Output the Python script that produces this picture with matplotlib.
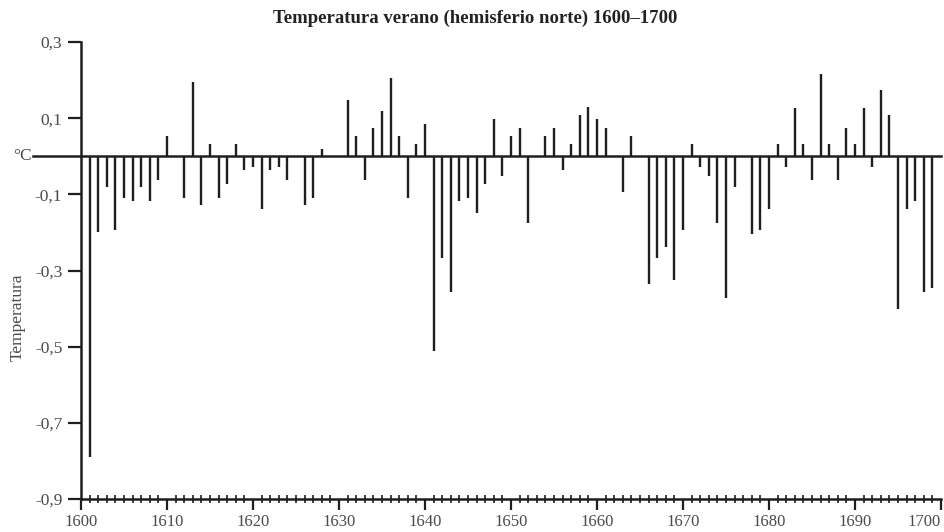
import matplotlib
matplotlib.use("Agg")
import matplotlib.pyplot as plt
import matplotlib.transforms as mtransforms
from matplotlib.ticker import MultipleLocator

# Summer temperature anomaly (northern hemisphere), one value per year, °C
years = list(range(1600, 1701))
anomaly = [
    0.0, -0.79, -0.20, -0.082, -0.194, -0.109, -0.118, -0.082, -0.118, -0.062,   # 1600-1609
    0.053, 0.0, -0.109, 0.195, -0.128, 0.032, -0.109, -0.073, 0.032, -0.037,     # 1610-1619
    -0.028, -0.138, -0.037, -0.028, -0.062, 0.0, -0.128, -0.109, 0.018, 0.0,     # 1620-1629
    0.0, 0.149, 0.053, -0.062, 0.074, 0.119, 0.205, 0.053, -0.109, 0.032,        # 1630-1639
    0.084, -0.512, -0.268, -0.356, -0.118, -0.109, -0.148, -0.073, 0.098, -0.053, # 1640-1649
    0.053, 0.074, -0.174, 0.0, 0.053, 0.074, -0.037, 0.032, 0.109, 0.129,        # 1650-1659
    0.098, 0.074, 0.0, -0.093, 0.053, 0.0, -0.336, -0.268, -0.239, -0.325,       # 1660-1669
    -0.194, 0.032, -0.027, -0.052, -0.174, -0.371, -0.082, 0.0, -0.203, -0.194,  # 1670-1679
    -0.138, 0.032, -0.027, 0.128, 0.032, -0.062, 0.215, 0.032, -0.062, 0.074,    # 1680-1689
    0.032, 0.128, -0.027, 0.175, 0.109, -0.402, -0.138, -0.118, -0.356, -0.345,  # 1690-1699
    0.0,                                                                          # 1700
]

y_ticks = [0.3, 0.1, -0.1, -0.3, -0.5, -0.7, -0.9]
y_tick_labels = ["0,3", "0,1", "-0,1", "-0,3", "-0,5", "-0,7", "-0,9"]
x_ticks = list(range(1600, 1701, 10))
x_tick_labels = [str(v) for v in x_ticks]

title = "Temperatura verano (hemisferio norte) 1600–1700"
y_label = "Temperatura"
unit_label = "°C"

serif = ["Liberation Serif", "DejaVu Serif"]
ink = "#1e1e1e"
label_color = "#4a4a4a"

fig = plt.figure(figsize=(9.44, 5.32), dpi=100)
fig.patch.set_facecolor("white")
ax = fig.add_axes([81 / 944, 1 - 499 / 532, (941 - 81) / 944, (499 - 42) / 532])

# yearly anomaly bars as thin vertical strokes from the zero line
ax.vlines(years, 0, anomaly, color=ink, lw=1.7)

ax.set_xlim(1600, 1700)
ax.set_ylim(-0.9, 0.3)

# zero line, extended to the left of the axis up to the unit label
trans = mtransforms.blended_transform_factory(ax.transAxes, ax.transData)
ax.plot([-48 / 860, 1.0], [0, 0], color=ink, lw=1.8, transform=trans, clip_on=False)
ax.text(-49 / 860, 0, unit_label, transform=trans, ha="right", va="center",
        fontsize=12.5, color=label_color, family=serif)

for side in ("top", "right"):
    ax.spines[side].set_visible(False)
for side in ("left", "bottom"):
    ax.spines[side].set_linewidth(1.8)
    ax.spines[side].set_color(ink)

ax.set_yticks(y_ticks)
ax.set_yticklabels(y_tick_labels, family=serif, fontsize=12.5, color=label_color)
ax.tick_params(axis="y", direction="out", length=9.5, width=1.6, color=ink, pad=4)

ax.set_xticks(x_ticks)
ax.set_xticklabels(x_tick_labels, family=serif, fontsize=12, color=label_color)
ax.xaxis.set_minor_locator(MultipleLocator(1))
ax.tick_params(axis="x", which="major", direction="out", length=8, width=1.6,
               color=ink, pad=3)
ax.tick_params(axis="x", which="minor", direction="inout", length=6, width=1.2,
               color=ink)
# keep the last year label inside the figure
ax.get_xticklabels()[-1].set_horizontalalignment("right")

ax.set_ylabel(y_label, family=serif, fontsize=12.5, color=label_color)
ax.yaxis.set_label_coords(-55 / 860, (499 - 317) / 457)

fig.text(475 / 944, 1 - 18 / 532, title, ha="center", va="center",
         fontsize=13.5, fontweight="bold", color="#222222", family=serif)

fig.savefig("out.png", dpi=100, facecolor="white")
